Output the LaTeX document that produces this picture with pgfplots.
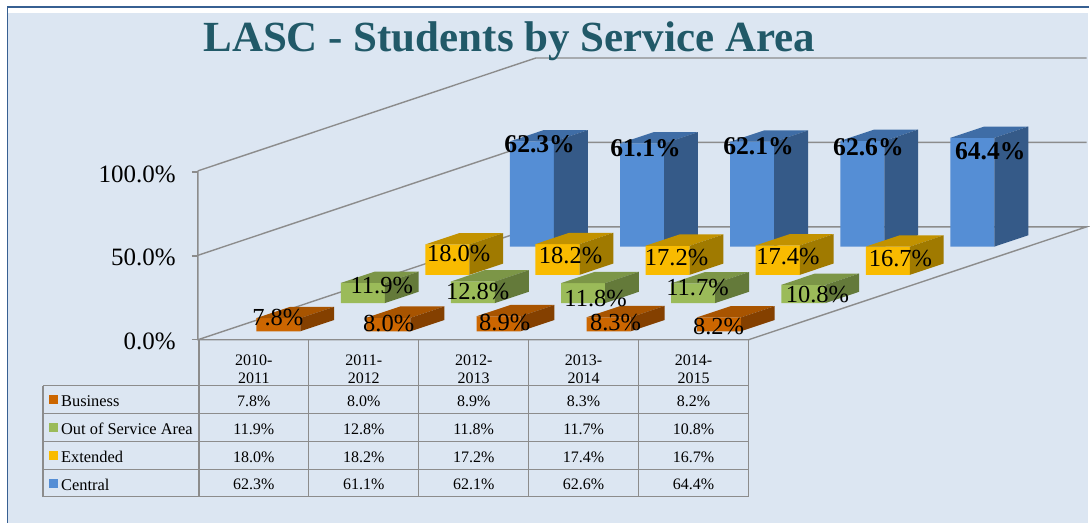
\documentclass[border=0pt]{standalone}
\usepackage{fontspec}
\setmainfont{Liberation Serif}
\usepackage{pgfplots}
\pgfplotsset{compat=1.18}
\definecolor{bgc}{HTML}{DCE6F2}
\definecolor{framec}{HTML}{376092}
\definecolor{gridc}{HTML}{8C8C8C}
\definecolor{titlec}{HTML}{215968}
\definecolor{of}{HTML}{CC6600}\definecolor{ot}{HTML}{A85400}\definecolor{os}{HTML}{844000}
\definecolor{gf}{HTML}{9BBB59}\definecolor{gt}{HTML}{7C9647}\definecolor{gs}{HTML}{647A3A}
\definecolor{yf}{HTML}{F9BB00}\definecolor{yt}{HTML}{C29200}\definecolor{ys}{HTML}{A07A00}
\definecolor{bf}{HTML}{558ED5}\definecolor{bt}{HTML}{3F6DA6}\definecolor{bs}{HTML}{355A88}
% one 3-D bar: category index, series index, value, front, top, side colours
\newcommand\threedbar[6]{%
  \pgfmathsetmacro\xa{#1+0.3}\pgfmathsetmacro\xb{#1+0.7}%
  \pgfmathsetmacro\ya{#2+0.3}\pgfmathsetmacro\yb{#2+0.7}%
  \addplot3[fill=#4,draw=none,mark=none,forget plot] coordinates {(\xa,\ya,0) (\xb,\ya,0) (\xb,\ya,#3) (\xa,\ya,#3) (\xa,\ya,0)};
  \addplot3[fill=#5,draw=none,mark=none,forget plot] coordinates {(\xa,\ya,#3) (\xb,\ya,#3) (\xb,\yb,#3) (\xa,\yb,#3) (\xa,\ya,#3)};
  \addplot3[fill=#6,draw=none,mark=none,forget plot] coordinates {(\xb,\ya,0) (\xb,\yb,0) (\xb,\yb,#3) (\xb,\ya,#3) (\xb,\ya,0)};
}
\newcommand\dl[3]{\node[font=\fontsize{24.5}{26}\selectfont,inner sep=0pt,yshift=-1pt] at (#1,#2) {#3};}
\newcommand\dlb[3]{\node[font=\fontsize{25.6}{27}\selectfont\bfseries,inner sep=0pt,yshift=-1pt] at (#1,#2) {#3};}
\newcommand\cell[3]{\node[font=\fontsize{16}{17}\selectfont,inner sep=0pt,yshift=-1pt] at (#1,#2) {#3};}
\begin{document}
\begin{tikzpicture}
% pixel frame: origin of the picture is the axis origin (198,340)
\begin{scope}[x=1pt,y=-1pt,shift={(-198pt,340pt)}]
  \fill[white] (0,0) rectangle (1090,523);
  \fill[bgc] (8,13) rectangle (1088.5,523);
  \draw[framec,line width=1.5pt] (7.3,523) -- (7.3,7) -- (1090,7);
\end{scope}
\begin{axis}[
  at={(0,0)},anchor=origin,
  x={(110.2pt,0pt)},y={(84.6pt,28.25pt)},z={(0pt,1.69pt)},
  xmin=0,xmax=5,ymin=0,ymax=4,zmin=0,zmax=100,
  hide axis,clip=false]
  % walls and floor
  \addplot3[gridc,line width=1.4pt,mark=none,forget plot] coordinates {(0,0,100) (0,0,0) (5,0,0) (5,4,0) (0,4,0) (0,0,0)};
  \addplot3[gridc,line width=1.4pt,mark=none,forget plot] coordinates {(0,0,50) (0,4,50) (5,4,50)};
  \addplot3[gridc,line width=1.4pt,mark=none,forget plot] coordinates {(0,0,100) (0,4,100) (5,4,100)};
  % Central
  \threedbar{0}{3}{62.3}{bf}{bt}{bs}
  \threedbar{1}{3}{61.1}{bf}{bt}{bs}
  \threedbar{2}{3}{62.1}{bf}{bt}{bs}
  \threedbar{3}{3}{62.6}{bf}{bt}{bs}
  \threedbar{4}{3}{64.4}{bf}{bt}{bs}
  % Extended
  \threedbar{0}{2}{18.0}{yf}{yt}{ys}
  \threedbar{1}{2}{18.2}{yf}{yt}{ys}
  \threedbar{2}{2}{17.2}{yf}{yt}{ys}
  \threedbar{3}{2}{17.4}{yf}{yt}{ys}
  \threedbar{4}{2}{16.7}{yf}{yt}{ys}
  % Out of Service Area
  \threedbar{0}{1}{11.9}{gf}{gt}{gs}
  \threedbar{1}{1}{12.8}{gf}{gt}{gs}
  \threedbar{2}{1}{11.8}{gf}{gt}{gs}
  \threedbar{3}{1}{11.7}{gf}{gt}{gs}
  \threedbar{4}{1}{10.8}{gf}{gt}{gs}
  % Business
  \threedbar{0}{0}{7.8}{of}{ot}{os}
  \threedbar{1}{0}{8.0}{of}{ot}{os}
  \threedbar{2}{0}{8.9}{of}{ot}{os}
  \threedbar{3}{0}{8.3}{of}{ot}{os}
  \threedbar{4}{0}{8.2}{of}{ot}{os}
\end{axis}
\begin{scope}[x=1pt,y=-1pt,shift={(-198pt,340pt)}]
  % title
  \node[font=\fontsize{43}{46}\selectfont\bfseries,text=titlec,inner sep=0pt,anchor=base] at (509.5,52) {LASC - Students by Service Area};
  % z axis ticks and labels
  \draw[gridc,line width=1.4pt] (192,172) -- (198,172) (192,256) -- (198,256) (192,340) -- (198,340);
  \foreach \yy/\tt in {174/100.0\%,258/50.0\%,342/0.0\%}
    \node[font=\fontsize{25}{27}\selectfont,anchor=east,inner sep=0pt] at (176,\yy) {\tt};
  % data labels
  \dlb{540}{143}{62.3\%}\dlb{646}{147}{61.1\%}\dlb{759}{145}{62.1\%}\dlb{869}{146}{62.6\%}\dlb{991}{150}{64.4\%}
  \dl{459}{253}{18.0\%}\dl{571}{255}{18.2\%}\dl{677}{257}{17.2\%}\dl{788.5}{256}{17.4\%}\dl{901}{258}{16.7\%}
  \dl{382}{285}{11.9\%}\dl{478}{291}{12.8\%}\dl{596}{298}{11.8\%}\dl{698}{287}{11.7\%}\dl{818}{294}{10.8\%}
  \dl{278}{317}{7.8\%}\dl{389}{323}{8.0\%}\dl{505}{322}{8.9\%}\dl{616}{322}{8.3\%}\dl{719}{326}{8.2\%}
  % table grid
  \draw[gridc,line width=1.4pt]
    (199,340) -- (199,497) (309,340) -- (309,497) (419,340) -- (419,497)
    (529,340) -- (529,497) (639,340) -- (639,497) (749,340) -- (749,497)
    (43,386) -- (749,386) (43,414) -- (749,414) (43,442) -- (749,442)
    (43,470) -- (749,470) (43,497) -- (749,497) (43,386) -- (43,497);
  % header
  \cell{254}{360}{2010-}\cell{254}{378}{2011}
  \cell{364}{360}{2011-}\cell{364}{378}{2012}
  \cell{474}{360}{2012-}\cell{474}{378}{2013}
  \cell{584}{360}{2013-}\cell{584}{378}{2014}
  \cell{694}{360}{2014-}\cell{694}{378}{2015}
  % legend keys and row names
  \fill[of] (49,395) rectangle (58,404);
  \fill[gf] (49,423) rectangle (58,432);
  \fill[yf] (49,451) rectangle (58,460);
  \fill[bf] (49,479) rectangle (58,488);
  \foreach \yy/\tt in {401/Business,429/Out of Service Area,457/Extended,485/Central}
    \node[font=\fontsize{16.4}{17}\selectfont,anchor=west,inner sep=0pt] at (61,\yy) {\tt};
  % values
  \cell{254}{401}{7.8\%}\cell{364}{401}{8.0\%}\cell{474}{401}{8.9\%}\cell{584}{401}{8.3\%}\cell{694}{401}{8.2\%}
  \cell{254}{429}{11.9\%}\cell{364}{429}{12.8\%}\cell{474}{429}{11.8\%}\cell{584}{429}{11.7\%}\cell{694}{429}{10.8\%}
  \cell{254}{457}{18.0\%}\cell{364}{457}{18.2\%}\cell{474}{457}{17.2\%}\cell{584}{457}{17.4\%}\cell{694}{457}{16.7\%}
  \cell{254}{484}{62.3\%}\cell{364}{484}{61.1\%}\cell{474}{484}{62.1\%}\cell{584}{484}{62.6\%}\cell{694}{484}{64.4\%}
\end{scope}
\end{tikzpicture}
\end{document}
